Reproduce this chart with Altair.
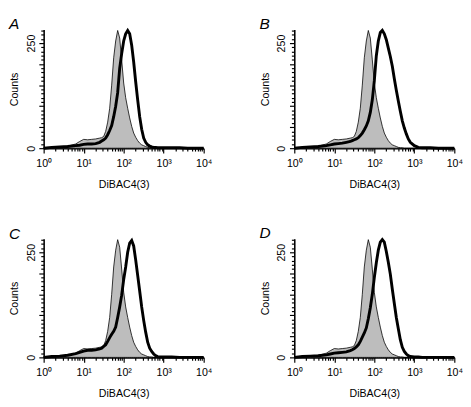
import altair as alt
import pandas as pd

# log10 positions of histogram channels (DiBAC4(3) fluorescence)
log_pos = [0.0, 0.2, 0.4, 0.6, 0.8, 0.9, 1.0, 1.1, 1.2, 1.3, 1.4, 1.45, 1.5, 1.55,
           1.6, 1.65, 1.7, 1.75, 1.8, 1.85, 1.9, 1.95, 2.0, 2.05, 2.1, 2.15, 2.2,
           2.25, 2.3, 2.35, 2.4, 2.45, 2.5, 2.55, 2.6, 2.65, 2.7, 2.75, 2.8, 2.85,
           2.9, 3.0, 3.1, 3.2, 3.4, 3.6, 3.8, 4.0]

# control histogram (grey, filled)
control = [0, 1, 3, 5, 10, 16, 21, 20, 21, 22, 24, 25, 28, 40, 62, 95, 150, 215,
           255, 280, 262, 210, 155, 120, 95, 72, 52, 36, 26, 18, 12, 8, 6, 4, 2,
           1, 1, 0, 0, 0, 0, 0, 0, 0, 0, 0, 0, 0]

# treated histograms (black outline), panels A-D
treated_A = [0, 2, 3, 4, 6, 7, 9, 10, 10, 11, 14, 17, 20, 24, 32, 42, 54, 75, 100,
             132, 190, 225, 255, 272, 280, 272, 245, 205, 158, 115, 75, 45, 24, 14,
             8, 5, 3, 2, 2, 1, 1, 1, 1, 1, 1, 0, 0, 0]
treated_B = [0, 2, 3, 4, 6, 8, 10, 11, 12, 14, 16, 18, 20, 22, 25, 30, 36, 44, 53,
             65, 85, 115, 160, 220, 255, 275, 280, 272, 258, 238, 218, 195, 165,
             138, 112, 88, 65, 48, 34, 22, 14, 6, 2, 1, 1, 0, 0, 0]
treated_C = [0, 2, 3, 5, 9, 12, 15, 17, 17, 18, 20, 22, 26, 30, 38, 47, 55, 62, 72,
             95, 120, 148, 185, 215, 250, 272, 278, 265, 232, 195, 158, 120, 88,
             60, 36, 22, 14, 8, 4, 2, 1, 1, 1, 1, 0, 0, 0, 0]
treated_D = [0, 2, 3, 4, 6, 8, 10, 11, 12, 13, 16, 18, 21, 25, 30, 38, 48, 58, 70,
             92, 118, 150, 190, 225, 255, 274, 280, 274, 252, 226, 198, 162, 128,
             95, 68, 42, 24, 14, 8, 4, 2, 1, 1, 0, 0, 0, 0, 0]

panel_letters = ["A", "B", "C", "D"]
x_title = "DiBAC4(3)"
y_title = "Counts"

x_ticks = [m * 10 ** e for e in range(4) for m in range(1, 10)] + [10000]
y_ticks = list(range(0, 290, 10))

FONT = "Liberation Sans"

x_axis = alt.Axis(
    values=x_ticks,
    labelExpr=("datum.value == 1 ? '10⁰' : datum.value == 10 ? '10¹' : "
               "datum.value == 100 ? '10²' : datum.value == 1000 ? '10³' : "
               "datum.value == 10000 ? '10⁴' : ''"),
    labelOverlap=False,
    labelFlush=False,
    tickSize={"condition": {"test": "indexof([1,10,100,1000,10000], datum.value) >= 0",
                            "value": 5}, "value": 3},
    labelPadding=5,
    titlePadding=11,
    grid=False,
)
y_axis = alt.Axis(
    values=y_ticks,
    labelExpr="datum.value == 0 || datum.value == 250 ? datum.label : ''",
    labelOverlap=False,
    labelAngle=270,
    labelAlign="center",
    labelBaseline="bottom",
    labelPadding=3,
    tickSize={"condition": {"test": "datum.value % 50 === 0", "value": 5}, "value": 3},
    titlePadding=6,
    grid=False,
)


def panel(treated, letter):
    df = pd.DataFrame({
        "x": [10 ** v for v in log_pos],
        "control": control,
        "treated": treated,
    })
    xenc = alt.X("x:Q", scale=alt.Scale(type="log", domain=[1, 10000], nice=False),
                 axis=x_axis, title=x_title)
    yscale = alt.Scale(domain=[0, 282], nice=False, zero=True)
    area = alt.Chart(df).mark_area(
        fill="#bdbdbd", stroke="black", strokeWidth=0.8, interpolate="linear"
    ).encode(x=xenc, y=alt.Y("control:Q", scale=yscale, axis=y_axis, title=y_title))
    line = alt.Chart(df).mark_line(
        color="black", strokeWidth=3, interpolate="linear"
    ).encode(x=xenc, y=alt.Y("treated:Q", scale=yscale, axis=y_axis, title=y_title))
    return alt.layer(area, line).properties(
        width=166, height=123,
        title=alt.TitleParams(letter, anchor="start", frame="bounds", fontStyle="italic",
                              fontWeight="normal", fontSize=16, font=FONT, offset=-7,
                              color="black"),
    )


charts = [panel(t, l) for t, l in zip([treated_A, treated_B, treated_C, treated_D],
                                      panel_letters)]

chart = alt.concat(*charts, columns=2, spacing={"row": 36, "column": 48}).properties(
    padding=0, background="white"
).configure_view(stroke=None).configure_axis(
    domainColor="black", domainWidth=1.6, tickColor="black", tickWidth=1.2,
    labelFont=FONT, labelFontSize=11, labelColor="black",
    titleFont=FONT, titleFontSize=11, titleFontWeight="normal", titleColor="black",
)

chart.save("out.html", embed_options={"renderer": "svg", "actions": False})
